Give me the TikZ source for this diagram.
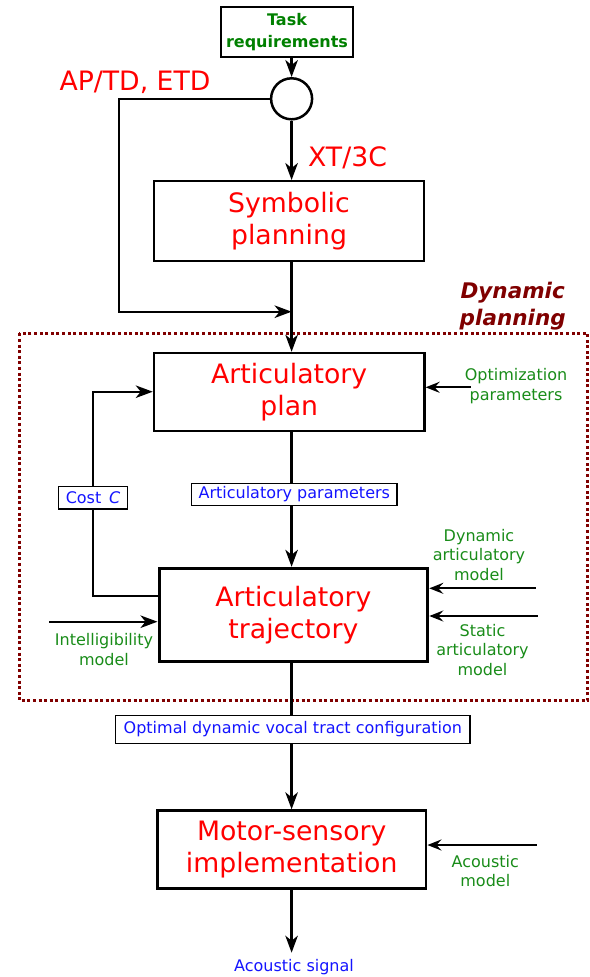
\documentclass[tikz,border=0pt]{standalone}
\usepackage{fontspec}
\setmainfont{DejaVu Sans}
\usetikzlibrary{arrows.meta}
\definecolor{tred}{RGB}{255,0,0}
\definecolor{tgreen}{RGB}{0,128,0}
\definecolor{lgreen}{RGB}{25,140,25}
\definecolor{tblue}{RGB}{20,20,255}
\definecolor{dred}{RGB}{128,0,0}
\begin{document}
\begin{tikzpicture}[x=1pt,y=-1pt,
  arr/.style={-{Stealth[length=17pt,width=12.5pt,inset=5pt]}, line width=2.3pt},
  sarr/.style={-{Stealth[length=14pt,width=11pt,inset=5pt]}, line width=2.3pt},
  bigbox/.style={draw, rectangle, inner sep=0pt, align=center, text=tred, font=\fontsize{26.7}{32.5}\selectfont},
  lab/.style={draw, fill=white, line width=1.3pt, inner sep=0pt, text=tblue, font=\fontsize{16}{19.5}\selectfont},
  gtext/.style={text=lgreen, align=center, inner sep=0pt, font=\fontsize{16}{19.5}\selectfont},
  redlab/.style={text=tred, inner sep=0pt, anchor=base, font=\fontsize{26.7}{32}\selectfont}
]
\useasboundingbox (0,0) rectangle (589,977);
% dotted region
\draw[dred, line width=2.6pt, dash pattern=on 3pt off 2.6pt] (19.3,333.3) rectangle (587.7,700.5);
\node[text=dred, font=\bfseries\itshape\fontsize{21.5}{26.6}\selectfont, align=center, inner sep=0pt] (dyn) at (512.7,306) {Dynamic\\planning};

% nodes
\node[draw, line width=1.3pt, minimum width=132pt, minimum height=50pt, inner sep=0pt, align=center, text=tgreen, font=\bfseries\fontsize{16}{21.6}\selectfont] (task) at (287,32) {Task\\requirements};
\node[draw, circle, line width=2.5pt, minimum size=41pt, inner sep=0pt] (circ) at (291.6,98.8) {};
\node[bigbox, line width=1.9pt, minimum width=270pt, minimum height=80pt] (sym) at (289,221) {Symbolic\\planning};
\node[bigbox, line width=2.4pt, minimum width=270.5pt, minimum height=78pt] (plan) at (289.2,392) {Articulatory\\plan};
\node[bigbox, line width=3pt, minimum width=268.8pt, minimum height=93.2pt] (traj) at (293.4,614.9) {Articulatory\\trajectory};
\node[bigbox, line width=2.8pt, minimum width=268.7pt, minimum height=77.6pt] (motor) at (291.7,849.5) {Motor-sensory\\implementation};

\node[redlab] (aptd) at (135,90) {AP/TD, ETD};
\node[redlab] (xt) at (347.5,166.7) {XT/3C};

% coordinates
\coordinate (fbc) at (119.3,311.7);
\coordinate (merge) at (291.6,311.7);
\coordinate (cb) at (93.3,596);
\coordinate (ct) at (93.3,391.7);
\coordinate (iin) at (49.3,621.7);
\coordinate (oin) at (470.7,387.3);
\coordinate (din) at (535.7,588.3);
\coordinate (sin) at (537.7,616);
\coordinate (ain) at (536.7,845);
\coordinate (sig) at (291.6,952.7);

% connectors
\draw[arr] (task.south -| circ.north) -- (circ.north);
\draw[arr] (circ.west) -| (fbc) -- (merge);
\draw[arr] (circ.south) -- (circ.south |- sym.north);
\draw[arr] (sym.south -| circ.south) -- (plan.north -| circ.south);
\draw[arr] (plan.south -| circ.south) -- (traj.north -| circ.south);
\draw[arr] (traj.west |- cb) -- (cb) -- (ct) -- (plan.west |- ct);
\draw[arr] (iin) -- (traj.west |- iin);
\draw[sarr] (oin) -- (plan.east |- oin);
\draw[sarr] (din) -- (traj.east |- din);
\draw[sarr] (sin) -- (traj.east |- sin);
\draw[arr] (traj.south -| circ.south) -- (motor.north -| circ.south);
\draw[sarr] (ain) -- (motor.east |- ain);
\draw[arr] (motor.south -| sig) -- (sig);

% labels on connectors
\node[lab, minimum width=205.4pt, minimum height=22.4pt] (ap) at (294.3,494.5) {Articulatory parameters};
\node[lab, minimum width=69.4pt, minimum height=22.3pt] (cost) at (93,497.8) {Cost~\,\textit{C}};
\node[lab, minimum width=354.3pt, minimum height=28.4pt] (opt) at (292.8,729.5) {Optimal dynamic vocal tract configuration};

% green annotations
\node[gtext] (optp) at (516,386.2) {Optimization\\parameters};
\node[gtext] (intel) at (104,649.5) {Intelligibility\\model};
\node[gtext] (dynm) at (479,554.8) {Dynamic\\articulatory\\model};
\node[gtext] (statm) at (482.5,649.7) {Static\\articulatory\\model};
\node[gtext] (acm) at (485.3,871) {Acoustic\\model};
\node[text=tblue, inner sep=0pt, anchor=base, font=\fontsize{16}{19.5}\selectfont] (sigt) at (294,971) {Acoustic signal};
\end{tikzpicture}
\end{document}
